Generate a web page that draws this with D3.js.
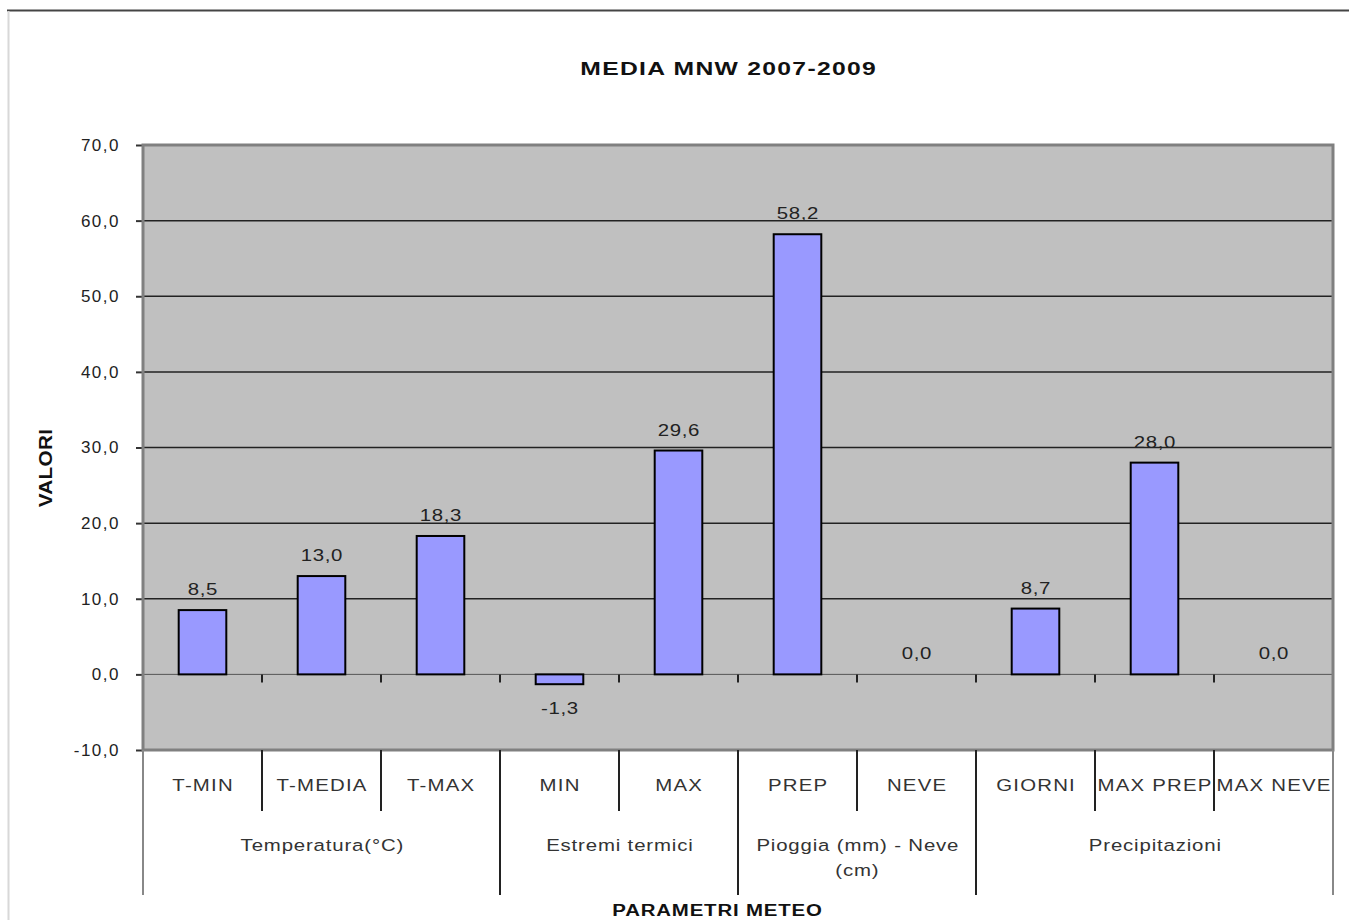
<!DOCTYPE html>
<html>
<head>
<meta charset="utf-8">
<script src="https://cdn.jsdelivr.net/npm/d3@7"></script>
<style>
  body { margin: 0; background: #fff; }
  svg { display: block; font-family: "Liberation Sans", Arial, sans-serif; }
</style>
</head>
<body>
<svg id="chart" width="1349" height="920"></svg>
<script>
// data
var categories = ["T-MIN", "T-MEDIA", "T-MAX", "MIN", "MAX", "PREP", "NEVE", "GIORNI", "MAX PREP", "MAX NEVE"];
var values = [8.5, 13.0, 18.3, -1.3, 29.6, 58.2, 0.0, 8.7, 28.0, 0.0];
var groups = [
    { name: ["Temperatura(°C)"], from: 0, to: 2 },
    { name: ["Estremi termici"], from: 3, to: 4 },
    { name: ["Pioggia (mm) - Neve", "(cm)"], from: 5, to: 6 },
    { name: ["Precipitazioni"], from: 7, to: 9 }
];
var yTicks = [-10, 0, 10, 20, 30, 40, 50, 60, 70];

var svg = d3.select("#chart");

var plotL = 143, plotR = 1333, plotT = 145, plotB = 750;

var x = d3.scaleBand()
    .domain(categories)
    .range([plotL, plotR])
    .paddingInner(0.6)
    .paddingOuter(0.3);

// category boundary position
function edge(i) { return plotL + (plotR - plotL) * i / categories.length; }

var y = d3.scaleLinear()
    .domain([-10, 70])
    .range([plotB, plotT]);

// comma decimals, plain hyphen for negatives
var fmt = function(d) { return d3.format(".1f")(d).replace(".", ",").replace("\u2212", "-"); };

// the source renders its text stretched sideways: place + widen a text
function wide(sel, px, py, sx, size, ls) {
    var fx = typeof px === "function" ? px : () => px;
    var fy = typeof py === "function" ? py : () => py;
    sel.attr("transform", (d, i) => "translate(" + fx(d, i) + "," + fy(d, i) + ") scale(" + sx + ",1)")
        .attr("font-size", size)
        .attr("letter-spacing", ls)
        .attr("dx", ls / 2)
        .attr("text-anchor", "middle");
}

// outer frame
svg.append("line")
    .attr("x1", 7).attr("x2", 1349).attr("y1", 10.5).attr("y2", 10.5)
    .attr("stroke", "#444").attr("stroke-width", 2);
svg.append("line")
    .attr("x1", 8.5).attr("x2", 8.5).attr("y1", 11).attr("y2", 920)
    .attr("stroke", "#d8d8d8").attr("stroke-width", 2);

// title
svg.append("text")
    .attr("font-weight", "bold")
    .attr("fill", "#111")
    .call(wide, 728, 75, 1.3, 19, 1)
    .text("MEDIA MNW 2007-2009");

// plot background
svg.append("rect")
    .attr("x", plotL).attr("y", plotT)
    .attr("width", plotR - plotL).attr("height", plotB - plotT)
    .attr("fill", "#c0c0c0");

// gridlines
svg.append("g")
    .selectAll("line")
    .data(yTicks.filter(d => d > 0 && d < 70))
    .join("line")
    .attr("x1", plotL).attr("x2", plotR)
    .attr("y1", d => y(d)).attr("y2", d => y(d))
    .attr("stroke", "#222").attr("stroke-width", 1.5);

// y axis
var yAxis = d3.axisLeft(y)
    .tickValues(yTicks)
    .tickFormat(fmt)
    .tickSize(7)
    .tickPadding(16);

var gy = svg.append("g")
    .attr("transform", "translate(" + plotL + ",0)")
    .call(yAxis);
gy.select(".domain").remove();
gy.selectAll(".tick line").attr("stroke", "#333").attr("stroke-width", 2);
gy.selectAll(".tick text")
    .attr("font-size", 17)
    .attr("letter-spacing", 1.5)
    .attr("fill", "#222")
    .attr("font-family", "'Liberation Sans', Arial, sans-serif");

// zero (category) axis
svg.append("line")
    .attr("x1", plotL).attr("x2", plotR)
    .attr("y1", y(0)).attr("y2", y(0))
    .attr("stroke", "#555").attr("stroke-width", 1);

svg.append("g")
    .selectAll("line")
    .data(d3.range(1, categories.length))
    .join("line")
    .attr("x1", d => edge(d)).attr("x2", d => edge(d))
    .attr("y1", y(0)).attr("y2", y(0) + 8)
    .attr("stroke", "#222").attr("stroke-width", 2);

// bars
svg.append("g")
    .selectAll("rect")
    .data(values)
    .join("rect")
    .attr("x", (d, i) => x(categories[i]))
    .attr("width", x.bandwidth())
    .attr("y", d => y(Math.max(0, d)))
    .attr("height", d => Math.abs(y(d) - y(0)))
    .attr("fill", "#9999ff")
    .attr("stroke", "#000")
    .attr("stroke-width", 2)
    .attr("display", d => d === 0 ? "none" : null);

// value labels
svg.append("g")
    .selectAll("text")
    .data(values)
    .join("text")
    .attr("fill", "#222")
    .call(wide,
        (d, i) => x(categories[i]) + x.bandwidth() / 2,
        d => d < 0 ? y(d) + 30 : y(d) - 15,
        1.2, 17, 0.5)
    .text(fmt);

// plot border
svg.append("rect")
    .attr("x", plotL).attr("y", plotT)
    .attr("width", plotR - plotL).attr("height", plotB - plotT)
    .attr("fill", "none")
    .attr("stroke", "#808080").attr("stroke-width", 3);

// category labels
svg.append("g")
    .selectAll("text")
    .data(categories)
    .join("text")
    .attr("fill", "#333")
    .call(wide, d => x(d) + x.bandwidth() / 2, 791, 1.2, 17, 1)
    .text(d => d);

// separators between categories
var groupEdges = [0];
groups.forEach(g => groupEdges.push(g.to + 1));

svg.append("g")
    .selectAll("line")
    .data(d3.range(0, categories.length + 1))
    .join("line")
    .attr("x1", d => edge(d)).attr("x2", d => edge(d))
    .attr("y1", plotB)
    .attr("y2", d => groupEdges.indexOf(d) >= 0 ? 895 : 811)
    .attr("stroke", d => (d === 0 || d === categories.length) ? "#888" : "#222")
    .attr("stroke-width", 2);

// group labels
var gl = svg.append("g")
    .selectAll("text")
    .data(groups)
    .join("text")
    .attr("fill", "#333")
    .call(wide, g => (edge(g.from) + edge(g.to + 1)) / 2, 851, 1.2, 17, 0.7);

gl.selectAll("tspan")
    .data(g => g.name)
    .join("tspan")
    .attr("x", 0.35)
    .attr("dy", (d, i) => i === 0 ? 0 : 25)
    .text(d => d);

// axis titles
svg.append("text")
    .attr("font-weight", "bold")
    .attr("fill", "#111")
    .call(wide, 717, 916, 1.2, 17, 0.7)
    .text("PARAMETRI METEO");

svg.append("text")
    .attr("transform", "translate(52,468) rotate(-90) scale(1.15,1)")
    .attr("text-anchor", "middle")
    .attr("font-weight", "bold")
    .attr("font-size", 18)
    .attr("letter-spacing", 0.3)
    .attr("fill", "#111")
    .text("VALORI");
</script>
</body>
</html>
